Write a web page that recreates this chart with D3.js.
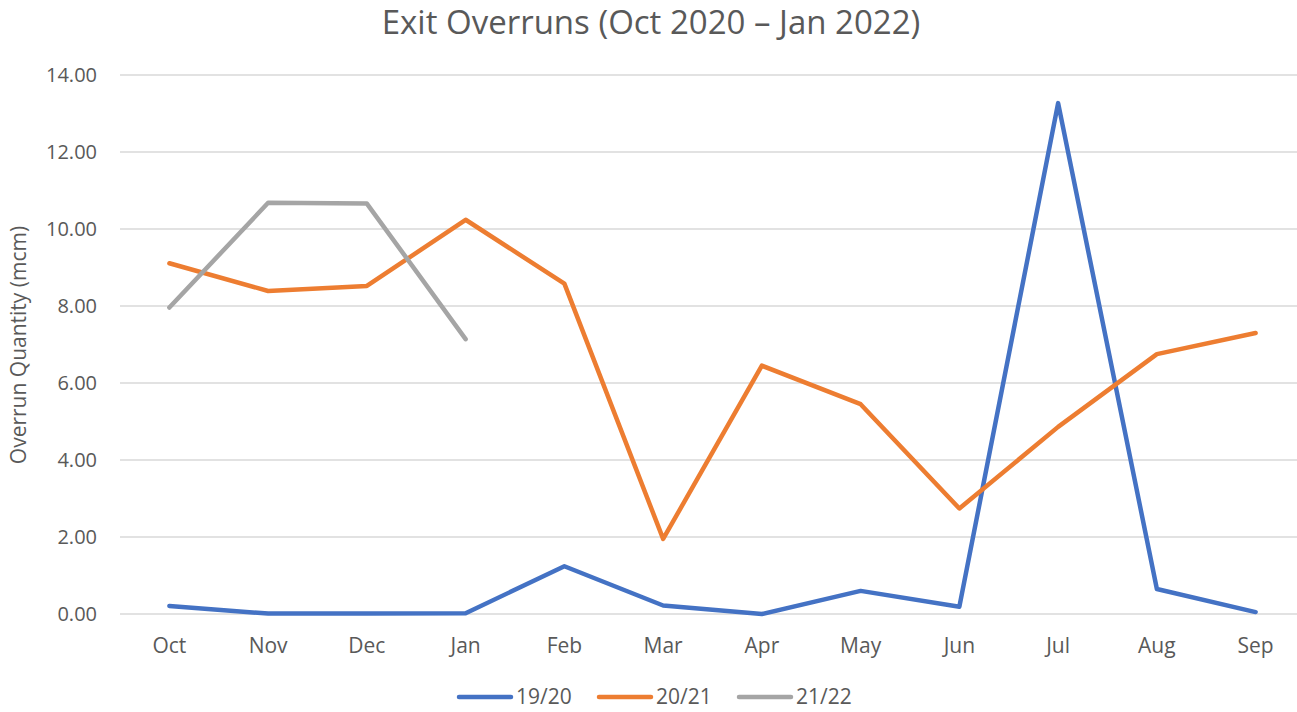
<!DOCTYPE html>
<html>
<head>
<meta charset="utf-8">
<script src="https://cdn.jsdelivr.net/npm/d3@7"></script>
<style>
  body { margin: 0; background: #fff; }
  text { font-family: "Open Sans", Lato, sans-serif; fill: #595959; }
</style>
</head>
<body>
<div id="chart"></div>
<script>
// months on the x axis
const months = ["Oct", "Nov", "Dec", "Jan", "Feb", "Mar", "Apr", "May", "Jun", "Jul", "Aug", "Sep"];
// series names
const seriesNames = ["19/20", "20/21", "21/22"];
// values (mcm)
const s1920 = [0.21, 0.01, 0.01, 0.02, 1.24, 0.22, 0.0, 0.6, 0.19, 13.27, 0.65, 0.05];
const s2021 = [9.11, 8.39, 8.52, 10.24, 8.58, 1.95, 6.45, 5.45, 2.74, 4.86, 6.75, 7.3];
const s2122 = [7.96, 10.68, 10.66, 7.14];
const yTicks = [0, 2, 4, 6, 8, 10, 12, 14];
const colors = ["#4472c4", "#ed7d31", "#a5a5a5"];

const width = 1297, height = 712;
const margin = {top: 75, right: 1297 - 1305, bottom: 712 - 614, left: 120};

const svg = d3.select("#chart").append("svg")
  .attr("width", width)
  .attr("height", height);

// x scale - one band per month, points in the middle of each band
const x = d3.scalePoint()
  .domain(months)
  .range([margin.left, width - margin.right])
  .padding(0.5);

const y = d3.scaleLinear()
  .domain([0, 14])
  .range([height - margin.bottom, margin.top]);

// gridlines
svg.append("g")
  .selectAll("line")
  .data(yTicks)
  .enter().append("line")
  .attr("x1", margin.left)
  .attr("x2", width - margin.right)
  .attr("y1", d => y(d))
  .attr("y2", d => y(d))
  .attr("stroke", "#d9d9d9")
  .attr("stroke-width", 1.3);

// y tick labels
svg.append("g")
  .selectAll("text")
  .data(yTicks)
  .enter().append("text")
  .attr("x", 97)
  .attr("y", d => y(d))
  .attr("dy", "0.35em")
  .attr("text-anchor", "end")
  .attr("font-size", 20)
  .text(d => d3.format(".2f")(d));

// x tick labels
svg.append("g")
  .selectAll("text")
  .data(months)
  .enter().append("text")
  .attr("x", d => x(d))
  .attr("y", 653)
  .attr("text-anchor", "middle")
  .attr("font-size", 21)
  .text(d => d);

// title
svg.append("text")
  .attr("x", 651)
  .attr("y", 34)
  .attr("text-anchor", "middle")
  .attr("font-size", 33)
  .text("Exit Overruns (Oct 2020 \u2013 Jan 2022)");

// y axis title
svg.append("text")
  .attr("transform", "translate(26,345) rotate(-90)")
  .attr("text-anchor", "middle")
  .attr("font-size", 21)
  .text("Overrun Quantity (mcm)");

// lines
const line = d3.line()
  .x((d, i) => x(months[i]))
  .y(d => y(d));

const allSeries = [s1920, s2021, s2122];
svg.append("g")
  .selectAll("path")
  .data(allSeries)
  .enter().append("path")
  .attr("d", d => line(d))
  .attr("fill", "none")
  .attr("stroke", (d, i) => colors[i])
  .attr("stroke-width", 4.5)
  .attr("stroke-linejoin", "round")
  .attr("stroke-linecap", "round");

// legend
const legend = svg.append("g")
  .selectAll("g")
  .data(seriesNames)
  .enter().append("g")
  .attr("transform", (d, i) => `translate(${459 + i * 140},697)`);

legend.append("line")
  .attr("x1", 0)
  .attr("x2", 52)
  .attr("stroke", (d, i) => colors[i])
  .attr("stroke-width", 4.5)
  .attr("stroke-linecap", "round");

legend.append("text")
  .attr("x", 57)
  .attr("dy", "0.35em")
  .attr("font-size", 21)
  .text(d => d);
</script>
</body>
</html>
